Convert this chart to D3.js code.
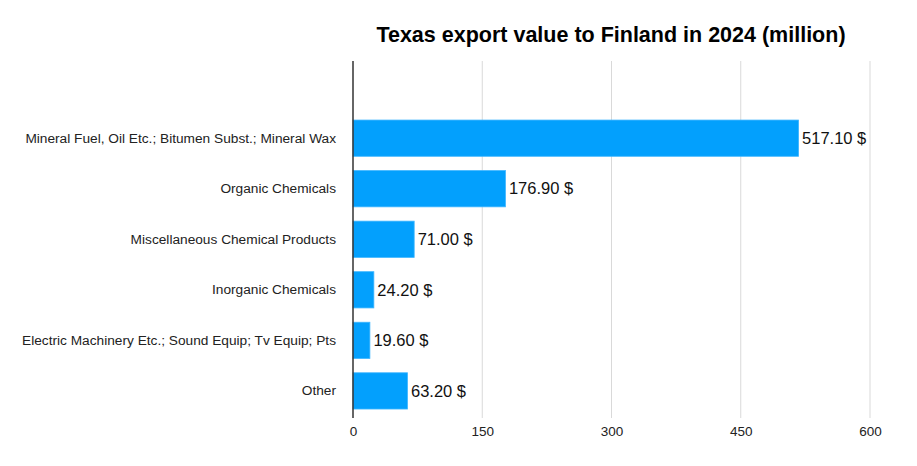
<!DOCTYPE html>
<html><head><meta charset="utf-8">
<script src="https://cdn.jsdelivr.net/npm/d3@7"></script>
<style>body{margin:0;background:#fff;}svg{display:block;font-family:"Liberation Sans",Arial,Helvetica,sans-serif;}</style>
</head><body>
<svg id="chart" width="917" height="466"></svg>
<script>
const categories = [
  "Mineral Fuel, Oil Etc.; Bitumen Subst.; Mineral Wax",
  "Organic Chemicals",
  "Miscellaneous Chemical Products",
  "Inorganic Chemicals",
  "Electric Machinery Etc.; Sound Equip; Tv Equip; Pts",
  "Other"
];
const values = [517.10, 176.90, 71.00, 24.20, 19.60, 63.20];
const tickValues = [0, 150, 300, 450, 600];
const titleText = "Texas export value to Finland in 2024 (million)";

const svg = d3.select("#chart");
const mLeft = 353, mRight = 870, mTop = 61, mBottom = 418;

const x = d3.scaleLinear().domain([0, 600]).range([mLeft, mRight]);
const y = d3.scaleBand().domain(categories).range([mTop, mBottom])
  .paddingInner(0.283).paddingOuter(0.673).align(0.868);

// grid
svg.append("g").selectAll("line").data(tickValues.slice(1)).join("line")
  .attr("x1", d => x(d)).attr("x2", d => x(d))
  .attr("y1", mTop).attr("y2", mBottom)
  .attr("stroke", "#d9d9d9").attr("stroke-width", 1);

// x tick labels
const xAxis = d3.axisBottom(x).tickValues(tickValues).tickSize(0).tickPadding(8);
const gx = svg.append("g").attr("transform", `translate(0,${mBottom})`).call(xAxis);
gx.select(".domain").remove();
gx.selectAll("text").attr("font-size", 13.5).attr("fill", "#222")
  .attr("font-family", "Liberation Sans, Arial, sans-serif");

// bars
svg.append("g").selectAll("rect").data(values).join("rect")
  .attr("x", x(0))
  .attr("y", (d, i) => y(categories[i]))
  .attr("width", d => x(d) - x(0))
  .attr("height", y.bandwidth())
  .attr("fill", "#03a0fd")
  .attr("stroke", "#3db5ff").attr("stroke-width", 0.8);

// value labels
svg.append("g").selectAll("text").data(values).join("text")
  .attr("x", d => x(d) + 3.5)
  .attr("y", (d, i) => y(categories[i]) + y.bandwidth() / 2)
  .attr("dy", "0.35em")
  .attr("font-size", 16.5).attr("fill", "#111")
  .text(d => d.toFixed(2) + " $");

// y axis
const yAxis = d3.axisLeft(y).tickSize(0).tickPadding(17);
const gy = svg.append("g").attr("transform", `translate(${mLeft},0)`).call(yAxis);
gy.select(".domain").remove();
gy.selectAll("text").attr("font-size", 13.7).attr("fill", "#222")
  .attr("font-family", "Liberation Sans, Arial, sans-serif");

svg.append("line").attr("x1", mLeft).attr("x2", mLeft).attr("y1", mTop).attr("y2", mBottom)
  .attr("stroke", "#333").attr("stroke-width", 1.5);

// title
svg.append("text").attr("x", 611).attr("y", 41.5).attr("text-anchor", "middle")
  .attr("font-size", 21.5).attr("font-weight", "bold").attr("fill", "#000")
  .text(titleText);
</script>
</body></html>
